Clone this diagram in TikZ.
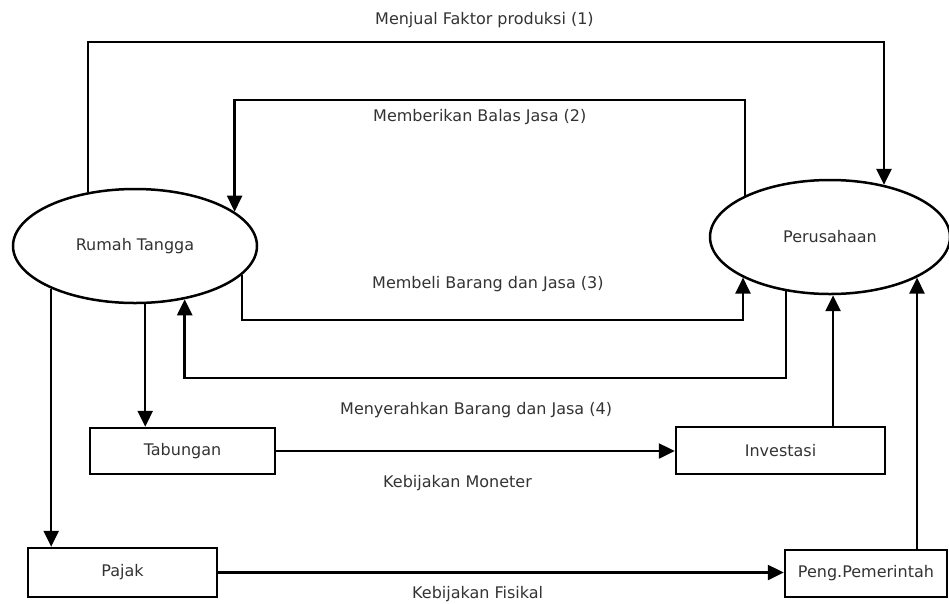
\documentclass[tikz,border=0pt]{standalone}
\usepackage{fontspec}
\setmainfont{DejaVu Sans}
\usepackage{tikz}
\usetikzlibrary{arrows.meta, shapes.geometric}
\definecolor{ktext}{HTML}{333333}

\begin{document}
\begin{tikzpicture}[x=1pt, y=-1pt,
  oval/.style={ellipse, draw, line width=2.5pt, fill=white, inner sep=0pt,
    font=\fontsize{16}{18}\selectfont, text=ktext},
  box/.style={rectangle, draw, line width=2.5pt, inner sep=0pt,
    font=\fontsize{16}{18}\selectfont, text=ktext},
  arr/.style={line width=2.5pt, -{Triangle[length=16pt, width=15pt]}},
  lbl/.style={anchor=west, inner sep=0pt, font=\fontsize{16}{18}\selectfont, text=ktext}]
\useasboundingbox (0,0) rectangle (949,603);
% sektor utama
\node[oval, minimum width=244pt, minimum height=114pt] (rt) at (135,246) {Rumah Tangga};
\node[oval, minimum width=240pt, minimum height=114pt] (pr) at (830,237) {Perusahaan};
% kotak bawah
\node[box, minimum width=185pt, minimum height=46pt] (tab) at (182.5,451) {Tabungan};
\node[box, minimum width=209pt, minimum height=47pt] (inv) at (780.5,450.5) {Investasi};
\node[box, minimum width=189pt, minimum height=49pt] (pjk) at (122.5,572.5) {Pajak};
\node[box, minimum width=162pt, minimum height=47pt] (peng) at (866,573.5) {Peng.Pemerintah};
% jalur aliran
\coordinate (l1) at (0,42);
\coordinate (l2) at (0,100);
\coordinate (l3) at (0,320);
\coordinate (l4) at (0,378);
\draw[arr] (rt.131.8) -- (rt.131.8 |- l1) -| (pr.44.7);
\draw[arr] (pr.154.7) -- (pr.154.7 |- l2) -| (rt.19.1);
\draw[arr] (rt.-15.5) -- (rt.-15.5 |- l3) -| (pr.205.3);
\draw[arr] (pr.231.1) -- (pr.231.1 |- l4) -| (rt.-47.5);
\draw[arr] (rt.-80) -- (rt.-80 |- tab.north);
\draw[arr] (rt.207.2) -- (rt.207.2 |- pjk.north);
\draw[arr] (tab.east) -- (tab.east -| inv.west);
\draw[arr] (pjk.east) -- (pjk.east -| peng.west);
\draw[arr] (pr.273 |- inv.north) -- (pr.273);
\draw[arr] (pr.335.7 |- peng.north) -- (pr.335.7);
% keterangan
\node[lbl] (t1) at (375,20) {Menjual Faktor produksi (1)};
\node[lbl] (t2) at (373,117) {Memberikan Balas Jasa (2)};
\node[lbl] (t3) at (372,284) {Membeli Barang dan Jasa (3)};
\node[lbl] (t4) at (340,410) {Menyerahkan Barang dan Jasa (4)};
\node[lbl] (t5) at (383,483) {Kebijakan Moneter};
\node[lbl] (t6) at (412,594) {Kebijakan Fisikal};
\end{tikzpicture}
\end{document}
